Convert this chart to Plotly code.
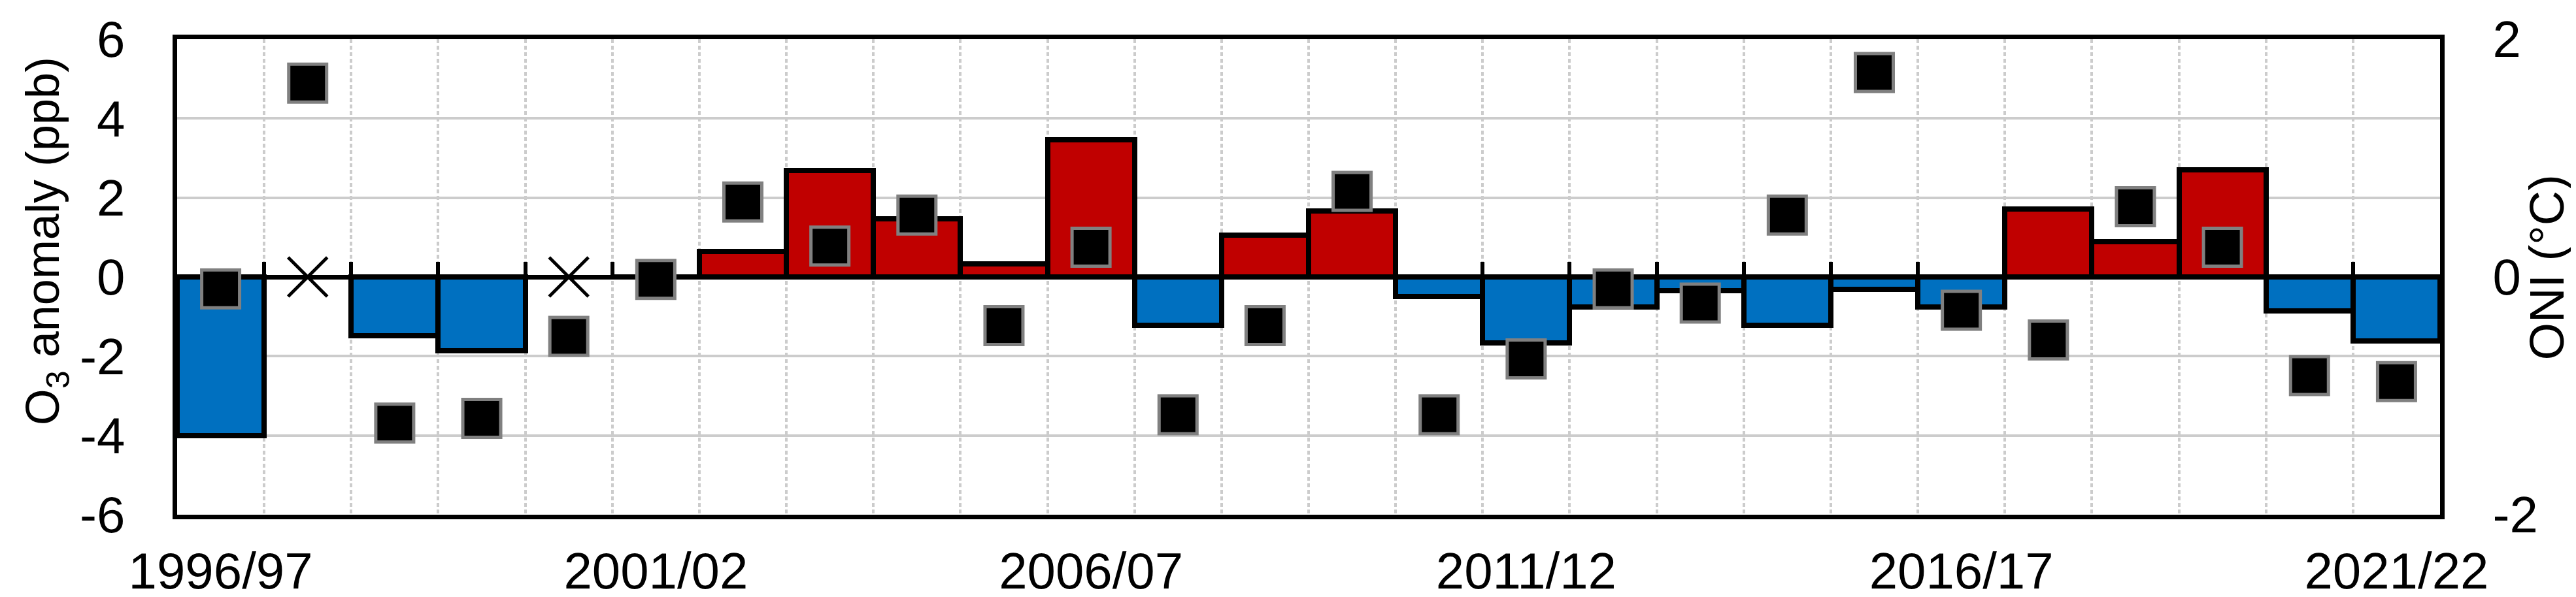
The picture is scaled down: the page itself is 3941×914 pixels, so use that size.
import plotly.graph_objects as go

# winter seasons
seasons = ['1996/97', '1997/98', '1998/99', '1999/00', '2000/01', '2001/02', '2002/03',
           '2003/04', '2004/05', '2005/06', '2006/07', '2007/08', '2008/09', '2009/10',
           '2010/11', '2011/12', '2012/13', '2013/14', '2014/15', '2015/16', '2016/17',
           '2017/18', '2018/19', '2019/20', '2020/21', '2021/22']

# O3 anomaly (ppb), None = no data (drawn as x)
o3_anom = [-4.0, None, -1.48, -1.87, None, 0.0, 0.65, 2.68, 1.46, 0.33, 3.46, -1.22, 1.06,
           1.66, -0.49, -1.67, -0.76, -0.34, -1.22, -0.32, -0.76, 1.71, 0.89, 2.71, -0.85, -1.61]

# ONI (degC)
oni = [-0.10, 1.63, -1.23, -1.19, -0.50, -0.02, 0.63, 0.26, 0.52, -0.41, 0.25, -1.16, -0.41,
       0.72, -1.16, -0.69, -0.10, -0.22, 0.52, 1.72, -0.28, -0.53, 0.59, 0.25, -0.83, -0.88]

x_label_every = 5
y_left_ticks = [-6, -4, -2, 0, 2, 4, 6]
y_right_ticks = [-2, 0, 2]

FONT = 'Arial, Liberation Sans, sans-serif'
BLUE = '#0070C0'
RED = '#C00000'
GRID = '#cccccc'

xs = list(range(len(seasons)))
bar_colors = [RED if (v is not None and v > 0) else BLUE for v in o3_anom]
missing_x = [i for i, v in enumerate(o3_anom) if v is None]

fig = go.Figure()

fig.add_trace(go.Bar(
    x=xs, y=o3_anom, width=1,
    marker=dict(color=bar_colors, line=dict(color='black', width=8)),
    xaxis='x', yaxis='y', showlegend=False,
))

fig.add_trace(go.Scatter(
    x=missing_x, y=[0] * len(missing_x), mode='markers',
    marker=dict(symbol='x-thin', size=60, line=dict(color='black', width=5)),
    xaxis='x', yaxis='y', showlegend=False,
))

fig.add_trace(go.Scatter(
    x=xs, y=oni, mode='markers',
    marker=dict(symbol='square', size=58, color='black', line=dict(color='#808080', width=5)),
    xaxis='x2', yaxis='y2', showlegend=False,
))

xrange = [-0.5, len(seasons) - 0.5]
tick_idx = xs[::x_label_every]

fig.update_layout(
    width=3941, height=914,
    margin=dict(l=263, r=216, t=52, b=134),
    paper_bgcolor='white', plot_bgcolor='white',
    bargap=0,
    font=dict(family=FONT, size=78, color='black'),
    xaxis=dict(
        range=xrange, tickvals=tick_idx, ticktext=[seasons[i] for i in tick_idx],
        showgrid=False, zeroline=False, automargin=False,
        showline=True, linecolor='black', linewidth=7, mirror=True,
        ticks='outside', ticklen=12, tickcolor='rgba(0,0,0,0)',
    ),
    xaxis2=dict(
        range=xrange, overlaying='x', anchor='free', position=0.5,
        tick0=0.5, dtick=1, showticklabels=False, automargin=False,
        ticks='inside', ticklen=23, tickwidth=6, tickcolor='black',
        showgrid=True, gridcolor=GRID, gridwidth=4, griddash='6px,4px',
        showline=False, zeroline=False, layer='below traces',
    ),
    yaxis=dict(
        range=[-6, 6], tickvals=y_left_ticks, ticktext=[str(v) for v in y_left_ticks],
        showgrid=True, gridcolor=GRID, gridwidth=4, automargin=False,
        zeroline=True, zerolinecolor='black', zerolinewidth=7,
        showline=True, linecolor='black', linewidth=7, mirror=True,
        ticks='outside', ticklen=57, tickcolor='rgba(0,0,0,0)',
    ),
    yaxis2=dict(
        range=[-2, 2], overlaying='y', side='right', anchor='x',
        tickvals=y_right_ticks, ticktext=[str(v) for v in y_right_ticks],
        showgrid=False, zeroline=False, showline=False, automargin=False,
        ticks='outside', ticklen=64, tickcolor='rgba(0,0,0,0)',
    ),
    annotations=[
        dict(text='O<sub>3</sub> anomaly (ppb)', textangle=-90, showarrow=False,
             xref='paper', yref='paper', x=-0.0578, y=0.575,
             xanchor='center', yanchor='middle', font=dict(size=72)),
        dict(text='ONI (°C)', textangle=-90, showarrow=False,
             xref='paper', yref='paper', x=1.0471, y=0.52,
             xanchor='center', yanchor='middle', font=dict(size=74)),
    ],
)

fig.write_html('out.html')
